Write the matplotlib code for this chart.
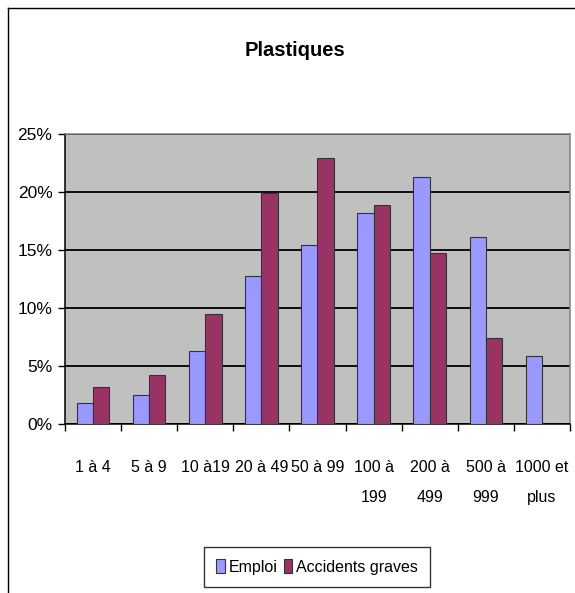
import matplotlib
matplotlib.use('Agg')
import matplotlib.pyplot as plt
from matplotlib.lines import Line2D
import numpy as np

# data
categories = ['1 à 4', '5 à 9', '10 à19', '20 à 49', '50 à 99',
              '100 à\n199', '200 à\n499', '500 à\n999', '1000 et\nplus']
emploi = [1.8, 2.5, 6.3, 12.8, 15.4, 18.2, 21.3, 16.1, 5.9]
accidents = [3.2, 4.2, 9.5, 19.9, 22.9, 18.9, 14.7, 7.4, 0.0]
yticks = [0, 5, 10, 15, 20, 25]

plt.rcParams['font.family'] = ['Liberation Sans', 'DejaVu Sans']

fig = plt.figure(figsize=(5.75, 5.93), dpi=100)
ax = fig.add_axes([65/575, 1 - 424/593, 505/575, 290/593])
ax.set_facecolor('#C0C0C0')

x = np.arange(len(categories))
w = 0.29
ax.bar(x - w/2, emploi, w, color='#9999FF', edgecolor='#333333', linewidth=0.8,
	label='Emploi', zorder=3)
ax.bar(x + w/2, accidents, w, color='#993366', edgecolor='#333333', linewidth=0.8,
	label='Accidents graves', zorder=3)

ax.set_xlim(-0.5, len(categories) - 0.5)
ax.set_ylim(0, 25)
ax.set_yticks(yticks)
ax.set_yticklabels([str(v) + '%' for v in yticks], fontsize=12.5)
ax.yaxis.grid(True, color='black', linewidth=1.3, zorder=1)
ax.set_axisbelow(True)

# x ticks sit between groups, labels at group centers
ax.set_xticks(np.arange(-0.5, len(categories)), minor=False)
ax.set_xticklabels([])
ax.set_xticks(x, minor=True)
ax.set_xticklabels(categories, minor=True, fontsize=11.5, linespacing=2.2)
ax.tick_params(axis='x', which='minor', length=0, pad=26)
ax.tick_params(axis='x', which='major', length=5, width=1, direction='out')
ax.tick_params(axis='y', length=5, width=1, direction='out', pad=4)

ax.spines['left'].set_color('black')
ax.spines['bottom'].set_color('black')
ax.spines['top'].set_color('#808080')
ax.spines['right'].set_color('#808080')
for s in ax.spines.values():
	s.set_linewidth(1.1)

fig.text(295/575, 1 - 50/593, 'Plastiques', ha='center', va='center',
	fontsize=14.5, fontweight='bold')

leg = fig.legend(loc='center', bbox_to_anchor=(317/575, 1 - 567/593), ncol=2,
	fontsize=11.5, frameon=True, fancybox=False, handlelength=0.55, handleheight=0.9,
	handletextpad=0.2, columnspacing=0.4, borderpad=0.8, borderaxespad=0)
leg.get_frame().set_edgecolor('black')
leg.get_frame().set_linewidth(1)

# outer chart frame (left and top edges visible)
fig.add_artist(Line2D([8/575, 8/575], [0, 1 - 8/593], color='black', linewidth=1,
	transform=fig.transFigure))
fig.add_artist(Line2D([8/575, 1], [1 - 8/593, 1 - 8/593], color='black', linewidth=1,
	transform=fig.transFigure))

fig.savefig('out.png', dpi=100)
